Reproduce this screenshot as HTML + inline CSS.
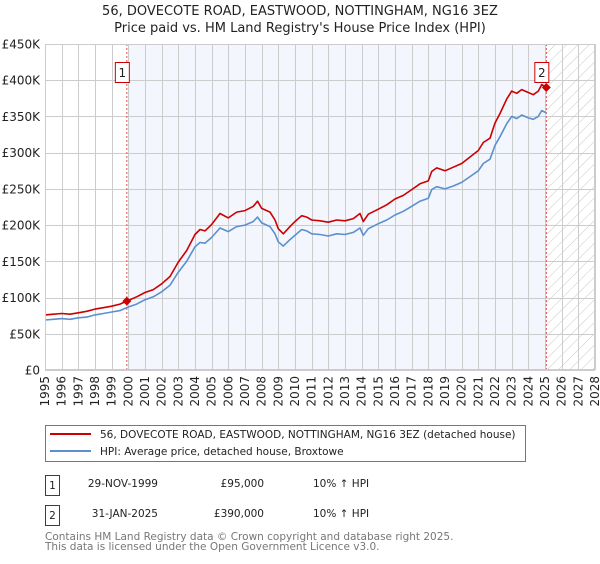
<!DOCTYPE html>
<html><head><meta charset="utf-8"><style>
html,body{margin:0;padding:0;background:#fff;}
body{width:600px;height:560px;overflow:hidden;font-family:"DejaVu Sans","Liberation Sans",sans-serif;}
svg text{font-family:"DejaVu Sans","Liberation Sans",sans-serif;}
</style></head><body>
<svg id="chart" width="600" height="560" xmlns="http://www.w3.org/2000/svg">
<defs>
<pattern id="hatch" patternUnits="userSpaceOnUse" width="8" height="8" patternTransform="rotate(45)">
<line x1="0" y1="0" x2="0" y2="8" stroke="#c8c8c8" stroke-width="1"/>
</pattern>
</defs>
<text x="300" y="15" text-anchor="middle" font-size="13" fill="#222">56, DOVECOTE ROAD, EASTWOOD, NOTTINGHAM, NG16 3EZ</text>
<text x="300" y="32" text-anchor="middle" font-size="13" fill="#222">Price paid vs. HM Land Registry's House Price Index (HPI)</text>
<g id="plot"></g>
<g>
<rect x="45.5" y="425.5" width="480" height="36" fill="#fff" stroke="#777" stroke-width="1"/>
<line x1="50" y1="434" x2="91" y2="434" stroke="#cc0000" stroke-width="2"/>
<text x="100" y="438" font-size="10.5" fill="#222">56, DOVECOTE ROAD, EASTWOOD, NOTTINGHAM, NG16 3EZ (detached house)</text>
<line x1="50" y1="451" x2="91" y2="451" stroke="#5b8fd0" stroke-width="2"/>
<text x="100" y="455" font-size="10.5" fill="#222">HPI: Average price, detached house, Broxtowe</text>
</g>
<g font-size="10.5" fill="#222">
<rect x="45.5" y="475.5" width="14" height="20" fill="#fff" stroke="#cc0000"/>
<text x="52.5" y="489" text-anchor="middle">1</text>
<text x="158" y="487" text-anchor="end">29-NOV-1999</text>
<text x="264" y="487" text-anchor="end">£95,000</text>
<text x="313" y="487">10% ↑ HPI</text>
</g>
<g font-size="10.5" fill="#222">
<rect x="45.5" y="505.5" width="14" height="20" fill="#fff" stroke="#cc0000"/>
<text x="52.5" y="519" text-anchor="middle">2</text>
<text x="158" y="517" text-anchor="end">31-JAN-2025</text>
<text x="264" y="517" text-anchor="end">£390,000</text>
<text x="313" y="517">10% ↑ HPI</text>
</g>
<text x="45" y="540" font-size="10.5" fill="#777">Contains HM Land Registry data © Crown copyright and database right 2025.</text>
<text x="45" y="550" font-size="10.5" fill="#777">This data is licensed under the Open Government Licence v3.0.</text>
</svg>
<script>
const yTicks=[0,50,100,150,200,250,300,350,400,450];
const yTickLabels=["£0","£50K","£100K","£150K","£200K","£250K","£300K","£350K","£400K","£450K"];
const xYears=[1995,1996,1997,1998,1999,2000,2001,2002,2003,2004,2005,2006,2007,2008,2009,2010,2011,2012,2013,2014,2015,2016,2017,2018,2019,2020,2021,2022,2023,2024,2025,2026,2027,2028];
const hpiDates=[1995,1995.5,1996,1996.5,1997,1997.5,1998,1998.5,1999,1999.5,2000,2000.5,2001,2001.5,2002,2002.5,2003,2003.5,2004,2004.3,2004.6,2005,2005.5,2006,2006.5,2007,2007.5,2007.75,2008,2008.5,2008.8,2009,2009.3,2009.7,2010,2010.4,2010.7,2011,2011.5,2012,2012.5,2013,2013.5,2013.9,2014.1,2014.4,2015,2015.5,2016,2016.5,2017,2017.5,2018,2018.2,2018.5,2019,2019.5,2020,2020.5,2021,2021.3,2021.7,2022,2022.3,2022.7,2023,2023.3,2023.6,2024,2024.3,2024.6,2024.8,2025.08];
const hpiValues=[69,70,71,70,72,73,76,78,80,82,87,91,97,101,108,117,135,150,170,176,175,183,196,191,198,200,205,211,203,198,188,177,171,180,186,194,192,188,187,185,188,187,190,196,186,195,202,207,214,219,226,233,237,249,253,250,254,259,267,275,285,291,310,322,340,350,347,352,348,346,350,358,355];
const priceDates=[1995,1995.5,1996,1996.5,1997,1997.5,1998,1998.5,1999,1999.5,2000,2000.5,2001,2001.5,2002,2002.5,2003,2003.5,2004,2004.3,2004.6,2005,2005.5,2006,2006.5,2007,2007.5,2007.75,2008,2008.5,2008.8,2009,2009.3,2009.7,2010,2010.4,2010.7,2011,2011.5,2012,2012.5,2013,2013.5,2013.9,2014.1,2014.4,2015,2015.5,2016,2016.5,2017,2017.5,2018,2018.2,2018.5,2019,2019.5,2020,2020.5,2021,2021.3,2021.7,2022,2022.3,2022.7,2023,2023.3,2023.6,2024,2024.3,2024.6,2024.8,2025.08];
const priceValues=[76,77,78,77,79,81,84,86,88,91,96,101,107,111,119,129,149,165,187,194,192,201,216,210,218,220,226,233,223,218,207,195,188,198,205,213,211,207,206,204,207,206,209,216,205,215,222,228,236,241,249,257,261,274,279,275,280,285,294,303,314,320,341,354,374,385,382,387,383,380,385,394,390];
const saleDates=[1999.91,2025.08];
const saleValues=[95,390];
const saleLabels=["1","2"];

const L=45,R=595,T=44,B=370,X0=1995,X1=2028,YMAX=450;
function xs(d){return L+(d-X0)*(R-L)/(X1-X0);}
function ys(v){return B-v*(B-T)/YMAX;}
const NS="http://www.w3.org/2000/svg";
const g=document.getElementById('plot');
function mk(tag,attrs){const e=document.createElementNS(NS,tag);for(const k in attrs)e.setAttribute(k,attrs[k]);g.appendChild(e);return e;}

const sx0=xs(saleDates[0]),sx1=xs(saleDates[1]);
let e=mk('rect',{x:sx0+1,y:T,width:sx1-sx0-1,height:B-T,fill:'#f3f6fd'});


e=mk('rect',{x:sx1,y:T,width:R-sx1,height:B-T,fill:'url(#hatch)'});



xYears.forEach(yr=>{
  const x=Math.round(xs(yr))+0.5;
  const l=mk('line',{x1:x,y1:T,x2:x,y2:B,stroke:'#cccccc','stroke-width':1});
  
  
  const t=mk('text',{x:0,y:0,'font-size':12,fill:'#222','text-anchor':'end',transform:`translate(${xs(yr)+4},${B+6}) rotate(-90)`});
  t.textContent=String(yr);
  
  
});
yTicks.forEach((v,i)=>{
  const y=Math.round(ys(v))+0.5;
  const l=mk('line',{x1:L,y1:y,x2:R,y2:y,stroke:'#cccccc','stroke-width':1});
  
  
  const t=mk('text',{x:40,y:ys(v)+4.5,'font-size':12,fill:'#222','text-anchor':'end'});
  t.textContent=yTickLabels[i];
  
  
});

saleDates.forEach((d,i)=>{
  const l=mk('line',{x1:xs(d),y1:T,x2:xs(d),y2:B,stroke:'#e05050','stroke-width':1,'stroke-dasharray':'2,2'});
  
  
});

function pathOf(ds,vs){return ds.map((d,i)=>(i?'L':'M')+xs(d).toFixed(1)+','+ys(vs[i]).toFixed(1)).join(' ');}
e=mk('path',{d:pathOf(hpiDates,hpiValues),fill:'none',stroke:'#5b8fd0','stroke-width':1.6,'stroke-linejoin':'round'});


e=mk('path',{d:pathOf(priceDates,priceValues),fill:'none',stroke:'#cc0000','stroke-width':1.6,'stroke-linejoin':'round'});



saleDates.forEach((d,i)=>{
  const cx=xs(d),cy=ys(saleValues[i]);
  const p=mk('path',{d:`M${cx},${cy-4.5} L${cx+4.5},${cy} L${cx},${cy+4.5} L${cx-4.5},${cy} Z`,fill:'#cc0000'});
  
  
  const r=mk('rect',{x:cx-11.5,y:62.5,width:14,height:20,fill:'#fff',stroke:'#cc0000'});
  
  
  const t=mk('text',{x:cx-4.5,y:77,'font-size':12,fill:'#222','text-anchor':'middle'});
  t.textContent=saleLabels[i];
  
  
});
const fr=mk('rect',{x:L+0.5,y:T+0.5,width:R-L-1,height:B-T-1,fill:'none',stroke:'#cccccc'});


</script>
</body></html>
